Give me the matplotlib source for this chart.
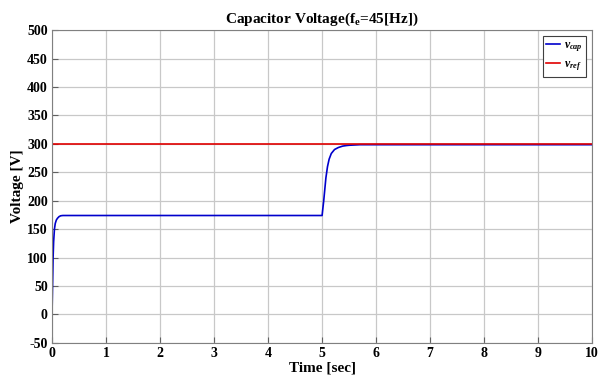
import numpy as np
import matplotlib.pyplot as plt

# points
t_cap = [0, 0.01, 0.02, 0.03, 0.045, 0.06, 0.08, 0.1, 0.13, 0.16, 0.2, 0.3, 1.0, 2.0, 3.0, 4.0, 5.0,
         5.01, 5.03, 5.05, 5.07, 5.1, 5.13, 5.17, 5.23, 5.3, 5.38, 5.45, 5.5, 5.6, 5.7, 6.0, 7.0, 8.0, 9.0, 10.0]
v_cap = [0, 50, 100, 128, 150, 160, 166, 169, 172, 173.5, 174, 174, 174, 174, 174, 174, 174,
         183, 200, 220, 240, 260, 273, 283, 290, 293.5, 296, 297, 297.5, 298, 298.5, 298.5, 298.5, 298.5, 298.5, 298.5]
t_ref = [0, 10]
v_ref = [300, 300]

xticks = list(range(0, 11))
yticks = list(range(-50, 501, 50))

plt.rcParams['font.family'] = ['Liberation Serif', 'DejaVu Serif']
plt.rcParams['axes.unicode_minus'] = False
plt.rcParams['mathtext.fontset'] = 'custom'
plt.rcParams['mathtext.it'] = 'Liberation Serif:italic:bold'
plt.rcParams['mathtext.rm'] = 'Liberation Serif:bold'

fig = plt.figure(figsize=(6.09, 3.76), dpi=100)
ax = fig.add_axes([0.0854, 0.088, 0.887, 0.832])

ax.plot(t_cap, v_cap, color='#0000cc', lw=1.2, label='$v_{cap}$')
ax.plot(t_ref, v_ref, color='#e00000', lw=1.2, label='$v_{ref}$')

ax.set_xlim(0, 10)
ax.set_ylim(-50, 500)
ax.set_xticks(xticks)
ax.set_yticks(yticks)
ax.grid(True, color='#c8c8c8', lw=0.9)
for s in ax.spines.values():
    s.set_color('#808080')
ax.tick_params(direction='in', length=4, color='#606060', labelsize=10, pad=3)
for lab in ax.get_xticklabels() + ax.get_yticklabels():
    lab.set_fontweight('bold')

ax.set_xlabel('Time [sec]', fontsize=11, fontweight='bold', labelpad=1)
ax.set_ylabel('Voltage [V]', fontsize=11, fontweight='bold', labelpad=2)
ax.set_title(r'Capacitor Voltage(f$_{\mathrm{e}}$=45[Hz])', fontsize=11, fontweight='bold', pad=5)

leg = ax.legend(loc='upper right', fontsize=8.5, handlelength=1.2, handletextpad=0.3,
                borderpad=0.3, labelspacing=0.35, fancybox=False, framealpha=1,
                borderaxespad=0.5)
leg.get_frame().set_edgecolor('#404040')
leg.get_frame().set_linewidth(0.8)

fig.savefig('out.png', dpi=100)
